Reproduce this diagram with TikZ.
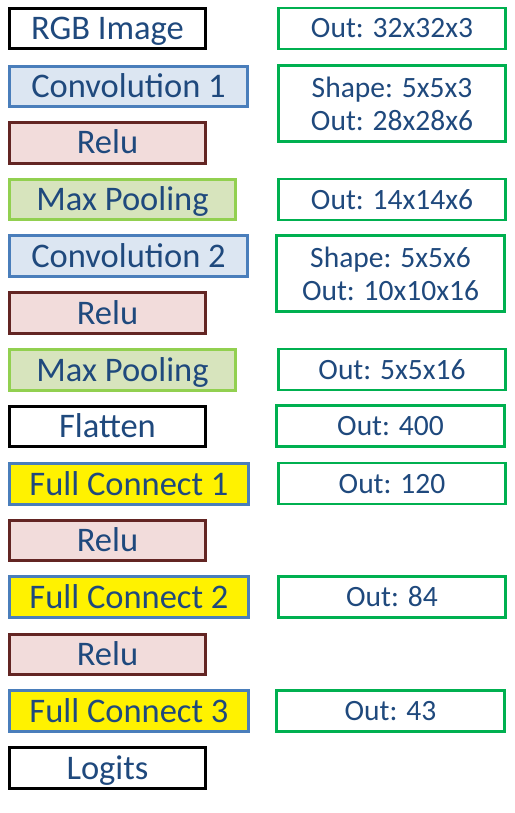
\documentclass[tikz,border=0pt]{standalone}
\usepackage{fontspec}
\setmainfont{Carlito}
\definecolor{txt}{RGB}{31,73,125}
\definecolor{convfill}{RGB}{220,230,242}
\definecolor{convdraw}{RGB}{74,126,187}
\definecolor{relufill}{RGB}{242,220,219}
\definecolor{reludraw}{RGB}{99,37,35}
\definecolor{poolfill}{RGB}{215,228,189}
\definecolor{pooldraw}{RGB}{146,208,80}
\definecolor{infodraw}{RGB}{0,176,80}
\begin{document}
\begin{tikzpicture}[x=1pt, y=-1pt,
  layer/.style={draw, line width=2.6pt, minimum height=40.5, inner sep=0pt, text=txt,
    font=\fontsize{34.5}{40}\selectfont, text height=22pt, text depth=0pt},
  plain/.style={layer, draw=black, fill=white, line width=3pt, minimum width=196},
  conv/.style={layer, draw=convdraw, fill=convfill, minimum width=238.5},
  relu/.style={layer, draw=reludraw, fill=relufill, minimum width=196},
  pool/.style={layer, draw=pooldraw, fill=poolfill, minimum width=226.5},
  fc/.style={layer, draw=convdraw, fill=yellow, minimum width=239.5},
  info/.style={draw=infodraw, fill=white, line width=2.6pt, minimum width=227.5, minimum height=41,
    inner sep=0pt, text=txt, font=\fontsize{29.5}{33}\selectfont, align=center},
  outbox/.style={info, text height=19pt, text depth=0pt}]
\useasboundingbox (0,0) rectangle (514,813);
\node[plain] (rgb) at (107.5,28.5) {RGB Image};
\node[conv] (conv1) at (128.5,86.5) {Convolution 1};
\node[relu] (relu1) at (107.5,143) {Relu};
\node[pool] (pool1) at (122.5,199.5) {Max Pooling};
\node[conv] (conv2) at (128.5,256) {Convolution 2};
\node[relu] (relu2) at (107.5,313) {Relu};
\node[pool] (pool2) at (122.5,370) {Max Pooling};
\node[plain] (flat) at (107.5,426.5) {Flatten};
\node[fc] (fc1) at (129,484) {Full Connect 1};
\node[relu] (relu3) at (107.5,540.5) {Relu};
\node[fc] (fc2) at (129,597) {Full Connect 2};
\node[relu] (relu4) at (107.5,654.5) {Relu};
\node[fc] (fc3) at (129,711) {Full Connect 3};
\node[plain] (logits) at (107.5,768) {Logits};
\node[outbox] (rgbout) at (392,28.5) {Out: 32x32x3};
\node[info, minimum height=76.5] (conv1out) at (392,103.5) {Shape: 5x5x3\\Out: 28x28x6};
\node[outbox] (pool1out) at (392,199.5) {Out: 14x14x6};
\node[info, minimum height=76.5] (conv2out) at (390.5,273.5) {Shape: 5x5x6\\Out: 10x10x16};
\node[outbox] (pool2out) at (392,369.5) {Out: 5x5x16};
\node[outbox] (flatout) at (390.5,426) {Out: 400};
\node[outbox] (fc1out) at (392,483.5) {Out: 120};
\node[outbox] (fc2out) at (392,597) {Out: 84};
\node[outbox] (fc3out) at (390.5,711) {Out: 43};
\end{tikzpicture}
\end{document}
